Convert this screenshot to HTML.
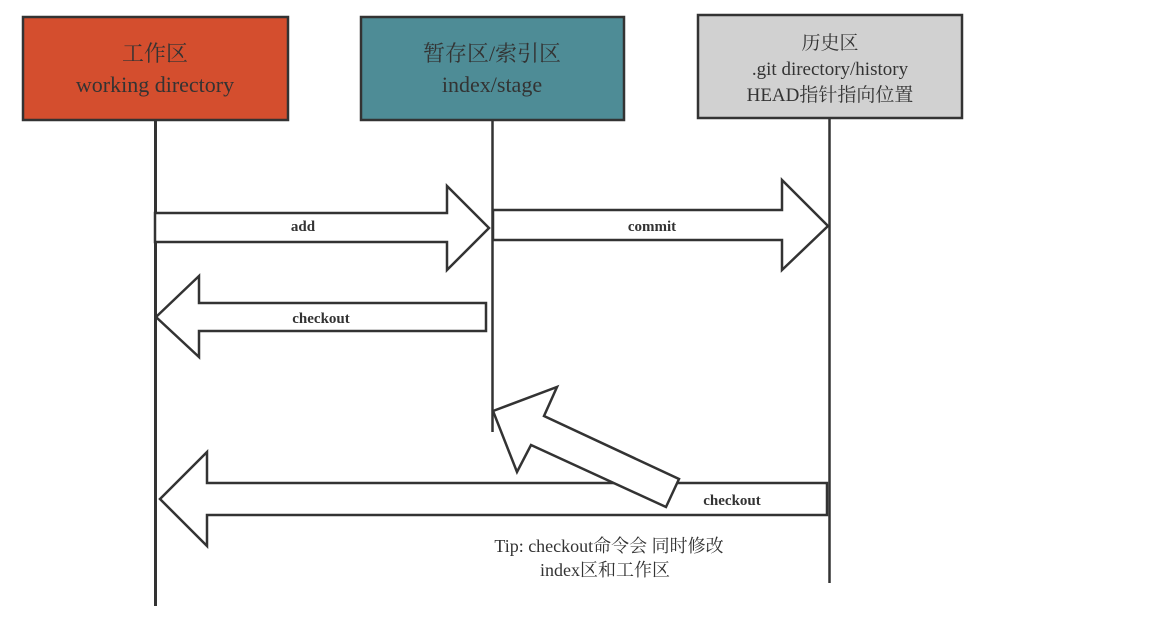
<!DOCTYPE html>
<html><head><meta charset="utf-8"><style>
html,body{margin:0;padding:0;background:#fff;width:1164px;height:626px;overflow:hidden}
svg{display:block}
text{font-family:"Liberation Serif","Noto Serif CJK SC",serif;fill:#333}
</style></head><body>
<svg width="1164" height="626" viewBox="0 0 1164 626" xmlns="http://www.w3.org/2000/svg">
<g stroke="#333" stroke-width="2.5">
<rect x="23" y="17" width="265" height="103" fill="#d44e2e"/>
<rect x="361" y="17" width="263" height="103" fill="#4e8c96"/>
<rect x="698" y="15" width="264" height="103" fill="#d1d1d1"/>
<line x1="155.5" y1="120" x2="155.5" y2="606" stroke-width="3"/>
<line x1="492.5" y1="120" x2="492.5" y2="432" stroke-width="2.5"/>
<line x1="829.5" y1="118" x2="829.5" y2="583" stroke-width="2.5"/>
</g>
<g stroke="#333" stroke-width="2.5" fill="#fff" stroke-linejoin="miter">
<polygon points="155,213 447,213 447,186 489,228 447,270 447,242 155,242"/>
<polygon points="493,210 782,210 782,180 828,226 782,270 782,240 493,240"/>
<polygon points="156,317 199,276 199,303 486,303 486,331 199,331 199,357"/>
<polygon points="160,499 207,452 207,483 827,483 827,515 207,515 207,546"/>
<polygon points="493,411 557,387 544,416 679,479 666,507 531,445 517,472"/>
</g>
<g text-anchor="middle">
<text x="155" y="61" font-size="22">工作区</text>
<text x="155" y="92" font-size="22">working directory</text>
<text x="492" y="61" font-size="22">暂存区/索引区</text>
<text x="492" y="92" font-size="22">index/stage</text>
<text x="830" y="49" font-size="19">历史区</text>
<text x="830" y="75" font-size="19">.git directory/history</text>
<text x="830" y="101" font-size="19">HEAD指针指向位置</text>
<text x="303" y="231" font-size="15" font-weight="bold">add</text>
<text x="652" y="231" font-size="15" font-weight="bold">commit</text>
<text x="321" y="323" font-size="15" font-weight="bold">checkout</text>
<text x="732" y="505" font-size="15" font-weight="bold">checkout</text>
<text x="609" y="552" font-size="18">Tip: checkout命令会 同时修改</text>
<text x="605" y="576" font-size="18">index区和工作区</text>
</g>
</svg>
</body></html>
